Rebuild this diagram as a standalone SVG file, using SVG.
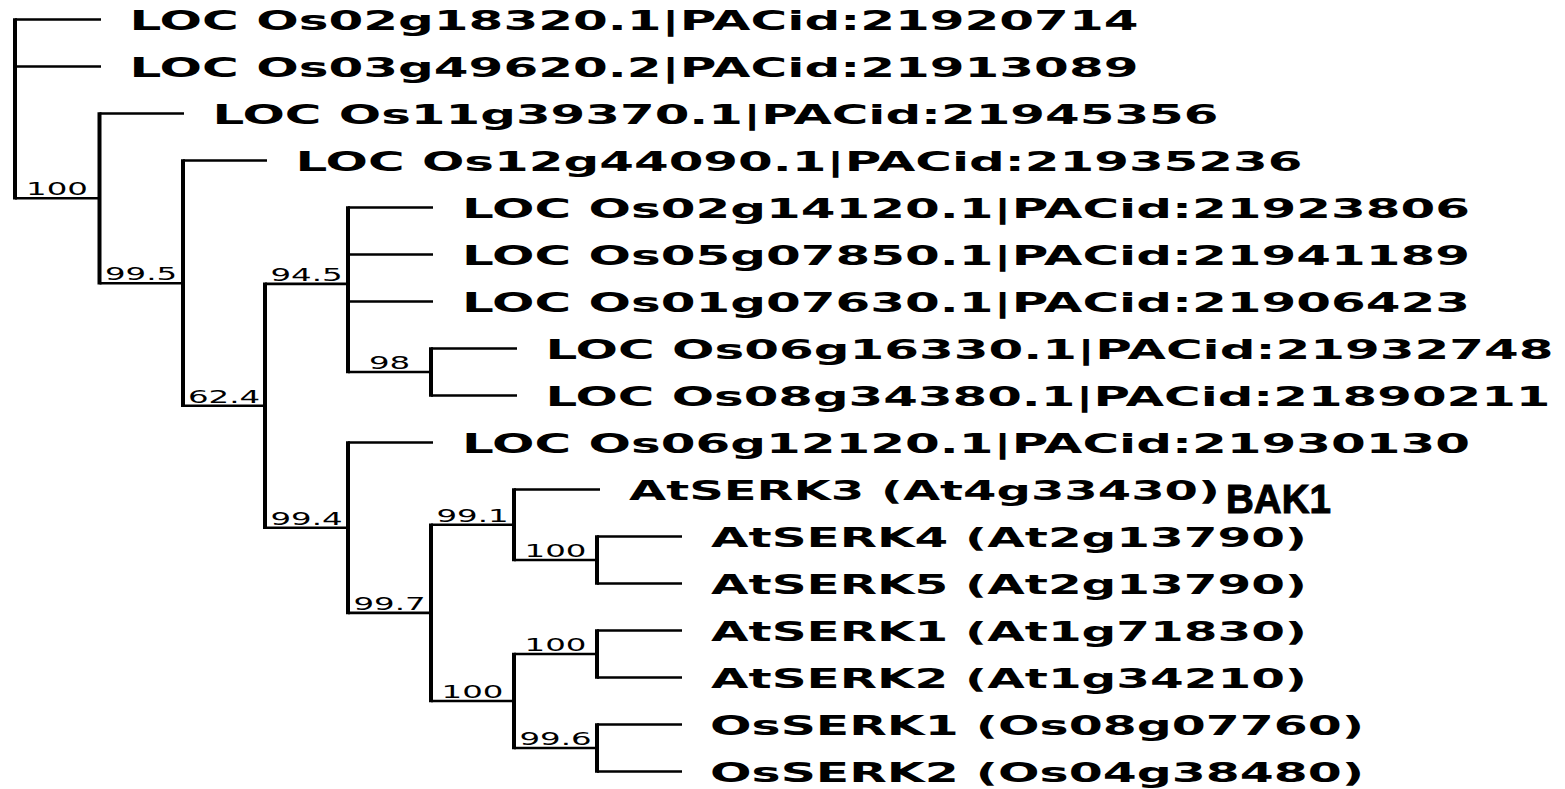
<svg xmlns="http://www.w3.org/2000/svg" width="1565" height="789" viewBox="0 0 1565 789">
<style>
.h{stroke:#000;stroke-width:2.6;fill:none}
.v{stroke:#000;stroke-width:4;fill:none}
.lf{font-family:"DejaVu Sans",sans-serif;font-weight:bold;font-size:27px;fill:#000}
.bs{font-family:"DejaVu Sans",sans-serif;font-size:18px;fill:#000;text-anchor:middle}
</style>
<rect width="1565" height="789" fill="#fff"/>
<g id="connectors">
<path class="h" d="M15 19.5H101M15 66.5H101M15 198.3H99.5M99.5 113.5H184M99.5 283.2H183M183 160.5H267M183 405.8H265M265 283.9H348M265 527.7H348M348 207.5H433M348 254.5H433M348 301.5H433M348 372H431M431 348.5H517M431 395.5H517M348 442.5H433M348 612.9H431M431 524.75H514M431 701H514M514 489.5H600M514 560H597M597 536.5H682M597 583.5H682M514 654H597M514 748H597M597 630.5H682M597 677.5H682M597 724.5H682M597 771.5H682"/>
<path class="v" d="M15 18.2V199.6M99.5 112.2V284.5M183 159.2V407.1M265 282.6V529M348 206.2V373.3M431 347.2V396.8M348 441.2V614.2M431 523.5V702.3M514 488.2V561.3M597 535.2V584.8M514 652.7V749.3M597 629.2V678.8M597 723.2V772.8"/>
</g>
<g id="leaf0"><text class="lf" x="129.5" y="30" textLength="1009" lengthAdjust="spacingAndGlyphs">LOC Os02g18320.1|PACid:21920714</text></g>
<g id="leaf1"><text class="lf" x="129.5" y="77" textLength="1009" lengthAdjust="spacingAndGlyphs">LOC Os03g49620.2|PACid:21913089</text></g>
<g id="leaf2"><text class="lf" x="212.5" y="124" textLength="1006" lengthAdjust="spacingAndGlyphs">LOC Os11g39370.1|PACid:21945356</text></g>
<g id="leaf3"><text class="lf" x="295.5" y="171" textLength="1007" lengthAdjust="spacingAndGlyphs">LOC Os12g44090.1|PACid:21935236</text></g>
<g id="leaf4"><text class="lf" x="462" y="218" textLength="1008" lengthAdjust="spacingAndGlyphs">LOC Os02g14120.1|PACid:21923806</text></g>
<g id="leaf5"><text class="lf" x="462" y="265" textLength="1008" lengthAdjust="spacingAndGlyphs">LOC Os05g07850.1|PACid:21941189</text></g>
<g id="leaf6"><text class="lf" x="462" y="312" textLength="1008" lengthAdjust="spacingAndGlyphs">LOC Os01g07630.1|PACid:21906423</text></g>
<g id="leaf7"><text class="lf" x="545.5" y="359" textLength="1008" lengthAdjust="spacingAndGlyphs">LOC Os06g16330.1|PACid:21932748</text></g>
<g id="leaf8"><text class="lf" x="545.5" y="406" textLength="1005" lengthAdjust="spacingAndGlyphs">LOC Os08g34380.1|PACid:21890211</text></g>
<g id="leaf9"><text class="lf" x="462" y="453" textLength="1008" lengthAdjust="spacingAndGlyphs">LOC Os06g12120.1|PACid:21930130</text></g>
<g id="leaf10"><text class="lf" x="629" y="500" textLength="591" lengthAdjust="spacingAndGlyphs">AtSERK3 (At4g33430)</text><text x="1226" y="513" font-family="Liberation Sans, Arial, sans-serif" font-weight="bold" font-size="40" fill="#000" stroke="#000" stroke-width="1" textLength="105" lengthAdjust="spacingAndGlyphs">BAK1</text></g>
<g id="leaf11"><text class="lf" x="711" y="547" textLength="596" lengthAdjust="spacingAndGlyphs">AtSERK4 (At2g13790)</text></g>
<g id="leaf12"><text class="lf" x="711" y="594" textLength="596" lengthAdjust="spacingAndGlyphs">AtSERK5 (At2g13790)</text></g>
<g id="leaf13"><text class="lf" x="711" y="641" textLength="596" lengthAdjust="spacingAndGlyphs">AtSERK1 (At1g71830)</text></g>
<g id="leaf14"><text class="lf" x="711" y="688" textLength="596" lengthAdjust="spacingAndGlyphs">AtSERK2 (At1g34210)</text></g>
<g id="leaf15"><text class="lf" x="710" y="735" textLength="654" lengthAdjust="spacingAndGlyphs">OsSERK1 (Os08g07760)</text></g>
<g id="leaf16"><text class="lf" x="710" y="782" textLength="654" lengthAdjust="spacingAndGlyphs">OsSERK2 (Os04g38480)</text></g>
<g id="n100root"><text class="bs" transform="translate(57,195.3) scale(1.8,1)">100</text></g>
<g id="n99_5"><text class="bs" transform="translate(141,280.2) scale(1.8,1)">99.5</text></g>
<g id="n62_4"><text class="bs" transform="translate(224,402.8) scale(1.8,1)">62.4</text></g>
<g id="n94_5"><text class="bs" transform="translate(306.5,280.9) scale(1.8,1)">94.5</text></g>
<g id="n98"><text class="bs" transform="translate(389.5,369) scale(1.8,1)">98</text></g>
<g id="n99_4"><text class="bs" transform="translate(306.5,524.7) scale(1.8,1)">99.4</text></g>
<g id="n99_7"><text class="bs" transform="translate(389.5,609.9) scale(1.8,1)">99.7</text></g>
<g id="n99_1"><text class="bs" transform="translate(472.5,521.75) scale(1.8,1)">99.1</text></g>
<g id="n100a"><text class="bs" transform="translate(555.5,557) scale(1.8,1)">100</text></g>
<g id="n100b"><text class="bs" transform="translate(555.5,651) scale(1.8,1)">100</text></g>
<g id="n100c"><text class="bs" transform="translate(472.5,698) scale(1.8,1)">100</text></g>
<g id="n99_6"><text class="bs" transform="translate(555.5,745) scale(1.8,1)">99.6</text></g>
</svg>
